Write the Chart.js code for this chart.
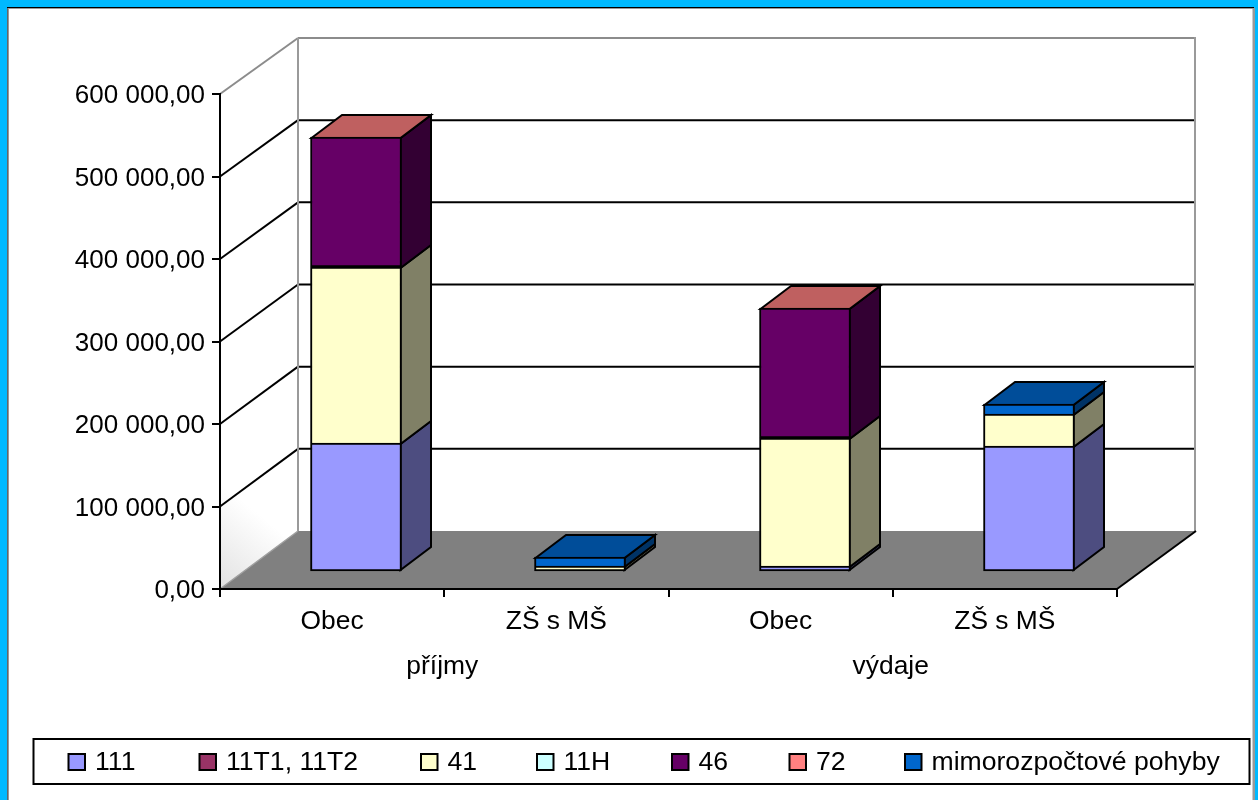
<!DOCTYPE html>
<html>
<head>
<meta charset="utf-8">
<style>html,body{margin:0;padding:0;background:#fff;overflow:hidden}canvas{display:block}</style>
<script src="https://cdn.jsdelivr.net/npm/chart.js@4"></script>
</head>
<body>
<canvas id="c" width="1258" height="800"></canvas>
<script>
const categories = ['Obec', 'ZŠ s MŠ', 'Obec', 'ZŠ s MŠ'];
const groups = ['příjmy', 'výdaje'];
const yTicksMax = 600000;
const s111  = [156400, 0, 7300, 152400];
const s11T  = [0, 0, 0, 0];
const s41   = [213600, 7500, 155500, 39500];
const s11H  = [0, 0, 0, 0];
const s46   = [157500, 0, 157100, 0];
const s72   = [100, 0, 100, 0];
const sMimo = [0, 11000, 0, 11700];

const FONT = '"Liberation Sans", Arial, sans-serif';
const FRONT = {l:220, r:1117, t:94, b:589};
const BACK  = {l:298, r:1195, t:38, b:531};
const BAR_SHIFT = {x:24, y:-17};
const BAR_DEPTH = {x:30.5, y:-23};
const LEGEND = {x:33.5, y:739, w:1216, h:45, swatch:[68.5,199.5,421,537,672,789.5,905]};

const shade = (hex, f) => {
  const n = parseInt(hex.slice(1), 16);
  const c = [n>>16&255, n>>8&255, n&255].map(v => Math.round(v*f));
  return `rgb(${c[0]},${c[1]},${c[2]})`;
};
const backY = y => BACK.t + (y - FRONT.t) * (BACK.b - BACK.t) / (FRONT.b - FRONT.t);
const poly = (ctx, pts, fill, stroke, lw) => {
  ctx.beginPath();
  pts.forEach((p, i) => i ? ctx.lineTo(p[0], p[1]) : ctx.moveTo(p[0], p[1]));
  ctx.closePath();
  if (fill) { ctx.fillStyle = fill; ctx.fill(); }
  if (stroke) { ctx.strokeStyle = stroke; ctx.lineWidth = lw; ctx.lineJoin = 'miter'; ctx.stroke(); }
};
const line = (ctx, a, b, c, d, col, lw) => {
  ctx.beginPath(); ctx.moveTo(a, b); ctx.lineTo(c, d);
  ctx.strokeStyle = col; ctx.lineWidth = lw; ctx.stroke();
};

const frame3d = {
  id: 'frame3d',
  // keep bar edges on whole pixels so neighbouring segments leave no seams
  afterDatasetsUpdate(chart) {
    chart.data.datasets.forEach((_, d) => {
      chart.getDatasetMeta(d).data.forEach(b => {
        b.x = Math.round(b.x); b.y = Math.round(b.y); b.base = Math.round(b.base);
      });
    });
  },
  beforeDraw(chart) {
    const ctx = chart.ctx, W = chart.width, H = chart.height;
    ctx.save();
    ctx.fillStyle = '#00B9FF'; ctx.fillRect(0, 0, W, H);
    ctx.fillStyle = '#000'; ctx.fillRect(7, 7, W - 9 - 2, H - 7);
    ctx.fillStyle = '#666'; ctx.fillRect(7, 8, 1, H - 8);
    ctx.fillStyle = '#999'; ctx.fillRect(8, 8, W - 11, H - 8);
    ctx.fillStyle = '#fff'; ctx.fillRect(9, 9, W - 14.5, H - 9);

    const g = ctx.createLinearGradient(272, 525, 220, 589);
    g.addColorStop(0, '#ffffff'); g.addColorStop(1, '#e2e2e2');
    poly(ctx, [[FRONT.l,FRONT.t],[BACK.l,BACK.t],[BACK.l,BACK.b],[FRONT.l,FRONT.b]], g);

    const y = chart.scales.y;
    y.ticks.forEach(t => {
      const py = y.getPixelForValue(t.value);
      const edge = t.value === yTicksMax;
      if (t.value !== 0) {
        line(ctx, FRONT.l, py, BACK.l, backY(py), edge ? '#8c8c8c' : '#000', 2);
        line(ctx, BACK.l, backY(py), BACK.r, backY(py), edge ? '#8c8c8c' : '#000', 2);
      }
    });
    line(ctx, BACK.l, BACK.t, BACK.l, BACK.b, '#9a9a9a', 2);
    line(ctx, BACK.r, BACK.t - 1, BACK.r, BACK.b, '#9a9a9a', 2);

    poly(ctx, [[FRONT.l,FRONT.b],[BACK.l,BACK.b],[BACK.r+1,BACK.b],[FRONT.r,FRONT.b]], '#808080');
    line(ctx, FRONT.l, FRONT.b, BACK.l, BACK.b, '#a0a0a0', 1.5);
    line(ctx, FRONT.r, FRONT.b, BACK.r+1, BACK.b, '#000', 2);
    ctx.restore();
  },
  beforeDatasetsDraw(chart) {
    const ctx = chart.ctx;
    ctx.save();
    ctx.translate(BAR_SHIFT.x, BAR_SHIFT.y);
    const dx = BAR_DEPTH.x, dy = BAR_DEPTH.y;
    categories.forEach((_, i) => {
      let top = null;
      chart.data.datasets.forEach((ds, d) => {
        const bar = chart.getDatasetMeta(d).data[i];
        if (!ds.data[i]) return;
        const R = bar.x + bar.width / 2 - 1;
        const yT = bar.y + 1, yB = top ? bar.base + 1 : bar.base - 1;
        poly(ctx, [[R,yT],[R+dx,yT+dy],[R+dx,yB+dy],[R,yB]],
             shade(ds.backgroundColor, 0.5), '#000', 2);
        top = {bar, ds};
      });
      if (top) {
        const L = top.bar.x - top.bar.width / 2 + 1, R = top.bar.x + top.bar.width / 2 - 1, Y = top.bar.y + 1;
        poly(ctx, [[L,Y],[L+dx,Y+dy],[R+dx,Y+dy],[R,Y]], shade(top.ds.backgroundColor, 0.75), '#000', 2);
      }
    });
  },
  afterDatasetsDraw(chart) { chart.ctx.restore(); },
  afterDraw(chart) {
    const ctx = chart.ctx;
    ctx.save();
    ctx.strokeStyle = '#000'; ctx.lineWidth = 2; ctx.fillStyle = '#fff';
    ctx.fillRect(LEGEND.x, LEGEND.y, LEGEND.w, LEGEND.h);
    ctx.strokeRect(LEGEND.x, LEGEND.y, LEGEND.w, LEGEND.h);
    ctx.font = '26.6px ' + FONT; ctx.textBaseline = 'middle'; ctx.textAlign = 'left';
    chart.data.datasets.forEach((ds, i) => {
      const x = LEGEND.swatch[i];
      ctx.fillStyle = ds.backgroundColor;
      ctx.fillRect(x, 754, 16.5, 16);
      ctx.strokeRect(x, 754, 16.5, 16);
      ctx.fillStyle = '#000';
      ctx.fillText(ds.label, x + 26.5, 763);
    });
    ctx.restore();
  }
};

const borders = c => {
  const ds = c.chart.data.datasets, i = c.dataIndex;
  let first = true;
  for (let d = 0; d < c.datasetIndex; d++) if (ds[d].data[i]) first = false;
  const heavy = ds[c.datasetIndex].label === '46';
  return {top: 2, left: 2, right: 2, bottom: first || heavy ? 2 : 0};
};
const mk = (label, data, color) => ({
  label, data, backgroundColor: color, borderColor: '#000', borderWidth: borders,
  borderSkipped: false, barThickness: 91, xAxisID: 'x', yAxisID: 'y', clip: false
});

new Chart(document.getElementById('c'), {
  type: 'bar',
  data: {
    labels: categories,
    datasets: [
      mk('111', s111, '#9999FF'),
      mk('11T1, 11T2', s11T, '#993366'),
      mk('41', s41, '#FFFFCC'),
      mk('11H', s11H, '#CCFFFF'),
      mk('46', s46, '#660066'),
      mk('72', s72, '#FF8080'),
      mk('mimorozpočtové pohyby', sMimo, '#0066CC')
    ]
  },
  plugins: [frame3d],
  options: {
    responsive: false,
    animation: false,
    layout: {padding: {left: 0, top: 94, right: 141, bottom: 113}},
    plugins: {legend: {display: false}, tooltip: {enabled: false}},
    scales: {
      y: {
        stacked: true, min: 0, max: yTicksMax,
        afterFit: s => { s.width = 220; },
        ticks: {
          stepSize: 100000, padding: 7, labelOffset: 2, color: '#000', font: {family: FONT, size: 26},
          callback: v => String(v).replace(/\B(?=(\d{3})+$)/g, ' ') + ',00'
        },
        grid: {drawOnChartArea: false, drawTicks: true, tickLength: 8, color: '#000', lineWidth: 2},
        border: {display: true, color: '#000', width: 2}
      },
      x: {
        stacked: true, position: 'bottom', weight: 1,
        afterFit: s => { s.height = 58; },
        ticks: {padding: 9, color: '#000', font: {family: FONT, size: 26.4}, maxRotation: 0, autoSkip: false},
        grid: {drawOnChartArea: false, drawTicks: true, tickLength: 8, color: '#000', lineWidth: 2, offset: true},
        border: {display: true, color: '#000', width: 2}
      },
      x2: {
        type: 'category', labels: groups, position: 'bottom', weight: 2, offset: true,
        afterFit: s => { s.height = 40; },
        ticks: {padding: 4, labelOffset: -2, color: '#000', font: {family: FONT, size: 26.4}, maxRotation: 0, autoSkip: false},
        grid: {display: false, drawTicks: false, tickLength: 0},
        border: {display: false}
      }
    }
  }
});
</script>
</body>
</html>
